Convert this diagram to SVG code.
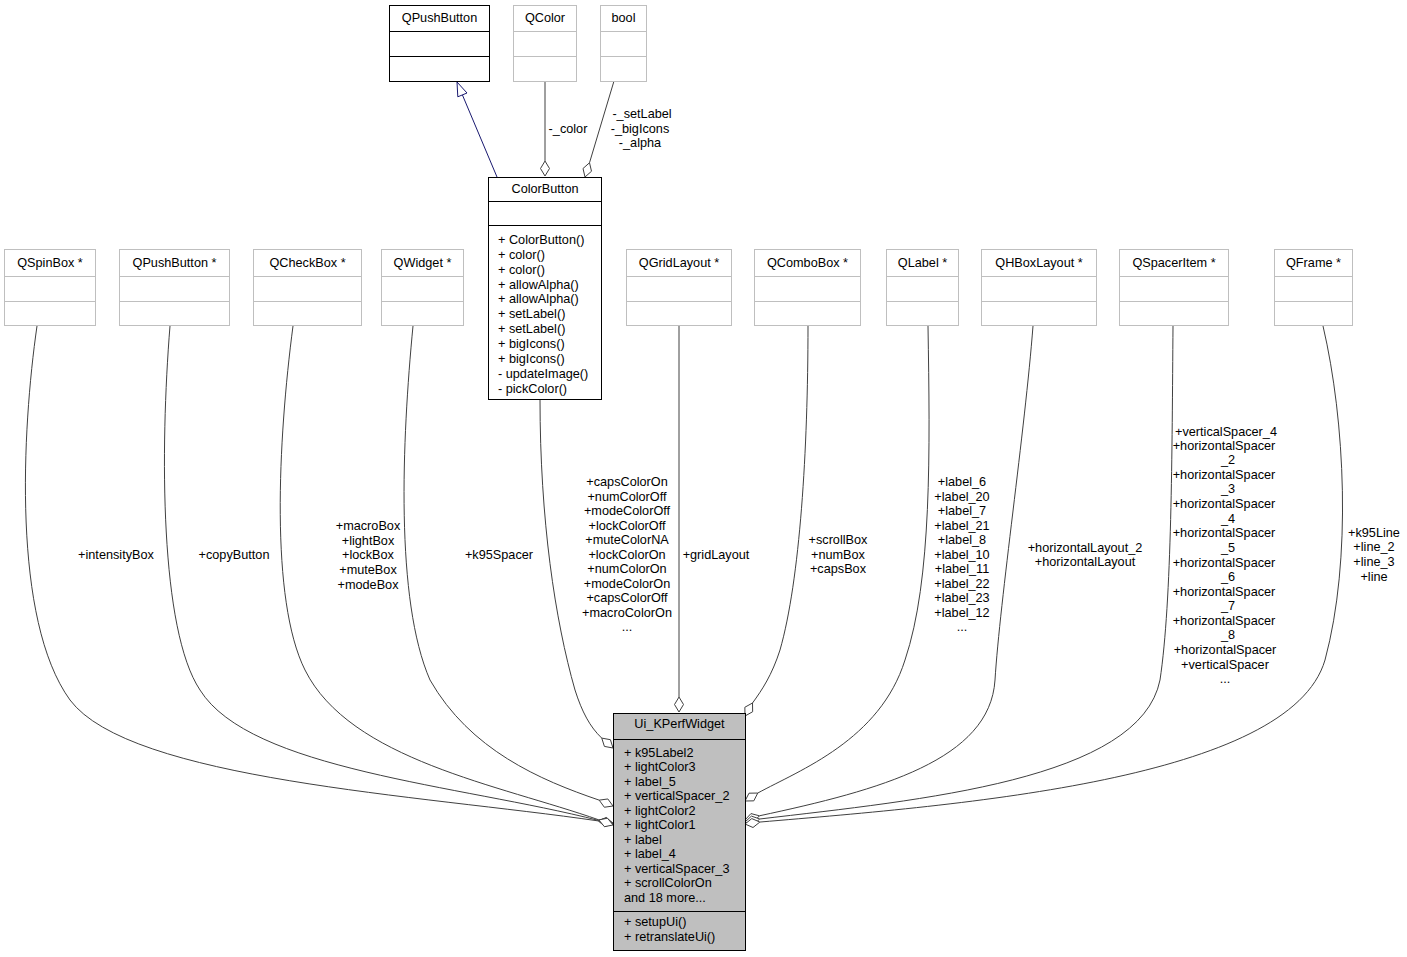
<svg xmlns="http://www.w3.org/2000/svg" width="1407" height="957" viewBox="0 0 1407 957">
<style>
text{font-family:"Liberation Sans",Arial,Helvetica,sans-serif;font-size:12.7px;fill:#000}
.c{text-anchor:middle}
.g{fill:#fff;stroke:#bfbfbf;stroke-width:1}
.k{fill:#fff;stroke:#000;stroke-width:1}
.u{fill:#bfbfbf;stroke:#000;stroke-width:1}
.e{fill:none;stroke:#404040;stroke-width:1}
.d{fill:#fff;stroke:#404040;stroke-width:1}
.inh{fill:none;stroke:#191970;stroke-width:1}
.tri{fill:#fff;stroke:#191970;stroke-width:1}
</style>
<rect width="1407" height="957" fill="#fff"/>
<g id="connectors">
<path class="inh" d="M497,177 L462.4,94.9"/>
<polygon class="tri" points="457,82 467,93 457.8,96.8"/>
<path class="e" d="M545,81 L545,161"/>
<polygon class="d" points="545,176 549.5,168.5 545,161 540.5,168.5"/>
<path class="e" d="M614,81 L589.5,162.75"/>
<polygon class="d" points="585,177 591.5,171.25 589.5,162.75 583,168.5"/>
<path class="e" d="M37,326 C22,430 12,620 70,700 C130,780 420,795 598.15,820.9"/>
<polygon class="d" points="613,823 606.2,817.5 598.15,820.9 604.97,826.4"/>
<path class="e" d="M170,326 C160,450 160,630 200,690 C250,770 460,785 598.45,820.4"/>
<polygon class="d" points="613,824 606.8,817.8 598.45,820.4 604.6,826.6"/>
<path class="e" d="M293,326 C278,440 270,600 305,670 C350,760 500,785 598.9,819.9"/>
<polygon class="d" points="613,825 607.5,818.2 598.9,819.9 604.4,826.7"/>
<path class="e" d="M413,326 C402,440 395,600 430,680 C470,750 540,780 599.2,800.15"/>
<polygon class="d" points="613,806 607.85,798.96 599.2,800.15 604.35,807.24"/>
<path class="e" d="M540,399 C540,520 555,620 575,690 C582,712 590,727 601.75,738.1"/>
<polygon class="d" points="613,748 610.4,739.7 601.75,738.1 604.4,746.4"/>
<path class="e" d="M679,326 L679,697"/>
<polygon class="d" points="679,712 683.5,704.5 679,697 674.5,704.5"/>
<path class="e" d="M808,326 C808,450 800,580 780,650 C772,675 762,690 752.5,703"/>
<polygon class="d" points="745,716 752.65,711.75 752.5,703 744.85,707.25"/>
<path class="e" d="M928,326 C930,450 932,580 905,660 C880,740 800,770 757.75,793.05"/>
<polygon class="d" points="745,801 753.8,800.85 757.75,793.05 749,793.2"/>
<path class="e" d="M1033,326 C1025,430 1000,600 995,680 C990,760 880,790 759.4,815.8"/>
<polygon class="d" points="745,820 753.46,822.22 759.4,815.8 750.94,813.58"/>
<path class="e" d="M1173,326 C1172,450 1172,600 1160,680 C1140,780 920,800 759.7,819"/>
<polygon class="d" points="745,822 753.25,824.9 759.7,819 751.45,816.1"/>
<path class="e" d="M1323,326 C1345,420 1352,560 1325,660 C1290,780 960,805 759.85,822.05"/>
<polygon class="d" points="745,824 753,827.5 759.85,822.05 751.8,818.6"/>
<text class="c" x="568" y="132.5">-_color</text>
<text class="c" x="642" y="117.5">-_setLabel</text>
<text class="c" x="640" y="132.5">-_bigIcons</text>
<text class="c" x="640" y="146.5">-_alpha</text>
<text class="c" x="116" y="558.5">+intensityBox</text>
<text class="c" x="234" y="558.5">+copyButton</text>
<text class="c" x="368" y="530">+macroBox</text>
<text class="c" x="368" y="545">+lightBox</text>
<text class="c" x="368" y="559">+lockBox</text>
<text class="c" x="368" y="574">+muteBox</text>
<text class="c" x="368" y="588.5">+modeBox</text>
<text class="c" x="499" y="558.5">+k95Spacer</text>
<text class="c" x="627" y="486">+capsColorOn</text>
<text class="c" x="627" y="500.5">+numColorOff</text>
<text class="c" x="627" y="515">+modeColorOff</text>
<text class="c" x="627" y="529.5">+lockColorOff</text>
<text class="c" x="627" y="544">+muteColorNA</text>
<text class="c" x="627" y="558.5">+lockColorOn</text>
<text class="c" x="627" y="573">+numColorOn</text>
<text class="c" x="627" y="587.5">+modeColorOn</text>
<text class="c" x="627" y="602">+capsColorOff</text>
<text class="c" x="627" y="616.5">+macroColorOn</text>
<text class="c" x="627" y="631">...</text>
<text class="c" x="716" y="558.5">+gridLayout</text>
<text class="c" x="838" y="544">+scrollBox</text>
<text class="c" x="838" y="558.5">+numBox</text>
<text class="c" x="838" y="573">+capsBox</text>
<text class="c" x="962" y="486">+label_6</text>
<text class="c" x="962" y="500.5">+label_20</text>
<text class="c" x="962" y="515">+label_7</text>
<text class="c" x="962" y="529.5">+label_21</text>
<text class="c" x="962" y="544">+label_8</text>
<text class="c" x="962" y="558.5">+label_10</text>
<text class="c" x="962" y="573">+label_11</text>
<text class="c" x="962" y="587.5">+label_22</text>
<text class="c" x="962" y="602">+label_23</text>
<text class="c" x="962" y="616.5">+label_12</text>
<text class="c" x="962" y="631">...</text>
<text class="c" x="1085" y="551.5">+horizontalLayout_2</text>
<text class="c" x="1085" y="566">+horizontalLayout</text>
<text class="c" x="1226" y="435.5">+verticalSpacer_4</text>
<text class="c" x="1224" y="450">+horizontalSpacer</text>
<text class="c" x="1228" y="464">_2</text>
<text class="c" x="1224" y="479">+horizontalSpacer</text>
<text class="c" x="1228" y="493">_3</text>
<text class="c" x="1224" y="508">+horizontalSpacer</text>
<text class="c" x="1228" y="522.5">_4</text>
<text class="c" x="1224" y="537">+horizontalSpacer</text>
<text class="c" x="1228" y="551.5">_5</text>
<text class="c" x="1224" y="566.5">+horizontalSpacer</text>
<text class="c" x="1228" y="581">_6</text>
<text class="c" x="1224" y="595.5">+horizontalSpacer</text>
<text class="c" x="1228" y="610">_7</text>
<text class="c" x="1224" y="624.5">+horizontalSpacer</text>
<text class="c" x="1228" y="639">_8</text>
<text class="c" x="1225" y="654">+horizontalSpacer</text>
<text class="c" x="1225" y="668.5">+verticalSpacer</text>
<text class="c" x="1225" y="683">...</text>
<text class="c" x="1374" y="536.5">+k95Line</text>
<text class="c" x="1374" y="551">+line_2</text>
<text class="c" x="1374" y="566">+line_3</text>
<text class="c" x="1374" y="580.5">+line</text>
</g>
<g id="QPushButton">
<rect class="k" x="389.5" y="5.5" width="100" height="76"/>
<path class="k" d="M389.5,31.5 H489.5 M389.5,56.5 H489.5"/>
<text class="c" x="439.5" y="21.5">QPushButton</text>
</g>
<g id="QColor">
<rect class="g" x="513.5" y="5.5" width="63" height="76"/>
<path class="g" d="M513.5,31.5 H576.5 M513.5,56.5 H576.5"/>
<text class="c" x="545" y="21.5">QColor</text>
</g>
<g id="bool">
<rect class="g" x="600.5" y="5.5" width="46" height="76"/>
<path class="g" d="M600.5,31.5 H646.5 M600.5,56.5 H646.5"/>
<text class="c" x="623.5" y="21.5">bool</text>
</g>
<g id="ColorButton">
<rect class="k" x="488.5" y="177.5" width="113" height="222"/>
<path class="k" d="M488.5,201.5 H601.5 M488.5,225.5 H601.5"/>
<text class="c" x="545" y="192.5">ColorButton</text>
<text x="498" y="243.8">+ ColorButton()</text>
<text x="498" y="258.7">+ color()</text>
<text x="498" y="273.6">+ color()</text>
<text x="498" y="288.5">+ allowAlpha()</text>
<text x="498" y="303.4">+ allowAlpha()</text>
<text x="498" y="318.3">+ setLabel()</text>
<text x="498" y="333.2">+ setLabel()</text>
<text x="498" y="348.1">+ bigIcons()</text>
<text x="498" y="363">+ bigIcons()</text>
<text x="498" y="377.9">- updateImage()</text>
<text x="498" y="392.8">- pickColor()</text>
</g>
<g id="QSpinBox">
<rect class="g" x="4.5" y="249.5" width="91" height="76"/>
<path class="g" d="M4.5,276.5 H95.5 M4.5,301.5 H95.5"/>
<text class="c" x="50" y="266.5">QSpinBox *</text>
</g>
<g id="QPushButtonPtr">
<rect class="g" x="119.5" y="249.5" width="110" height="76"/>
<path class="g" d="M119.5,276.5 H229.5 M119.5,301.5 H229.5"/>
<text class="c" x="174.5" y="266.5">QPushButton *</text>
</g>
<g id="QCheckBox">
<rect class="g" x="253.5" y="249.5" width="108" height="76"/>
<path class="g" d="M253.5,276.5 H361.5 M253.5,301.5 H361.5"/>
<text class="c" x="307.5" y="266.5">QCheckBox *</text>
</g>
<g id="QWidget">
<rect class="g" x="381.5" y="249.5" width="82" height="76"/>
<path class="g" d="M381.5,276.5 H463.5 M381.5,301.5 H463.5"/>
<text class="c" x="422.5" y="266.5">QWidget *</text>
</g>
<g id="QGridLayout">
<rect class="g" x="626.5" y="249.5" width="105" height="76"/>
<path class="g" d="M626.5,276.5 H731.5 M626.5,301.5 H731.5"/>
<text class="c" x="679" y="266.5">QGridLayout *</text>
</g>
<g id="QComboBox">
<rect class="g" x="754.5" y="249.5" width="106" height="76"/>
<path class="g" d="M754.5,276.5 H860.5 M754.5,301.5 H860.5"/>
<text class="c" x="807.5" y="266.5">QComboBox *</text>
</g>
<g id="QLabel">
<rect class="g" x="886.5" y="249.5" width="72" height="76"/>
<path class="g" d="M886.5,276.5 H958.5 M886.5,301.5 H958.5"/>
<text class="c" x="922.5" y="266.5">QLabel *</text>
</g>
<g id="QHBoxLayout">
<rect class="g" x="981.5" y="249.5" width="115" height="76"/>
<path class="g" d="M981.5,276.5 H1096.5 M981.5,301.5 H1096.5"/>
<text class="c" x="1039" y="266.5">QHBoxLayout *</text>
</g>
<g id="QSpacerItem">
<rect class="g" x="1119.5" y="249.5" width="109" height="76"/>
<path class="g" d="M1119.5,276.5 H1228.5 M1119.5,301.5 H1228.5"/>
<text class="c" x="1174" y="266.5">QSpacerItem *</text>
</g>
<g id="QFrame">
<rect class="g" x="1274.5" y="249.5" width="78" height="76"/>
<path class="g" d="M1274.5,276.5 H1352.5 M1274.5,301.5 H1352.5"/>
<text class="c" x="1313.5" y="266.5">QFrame *</text>
</g>
<g id="Ui_KPerfWidget">
<rect class="u" x="613.5" y="713.5" width="132" height="237"/>
<path class="u" d="M613.5,739.5 H745.5 M613.5,911.5 H745.5"/>
<text class="c" x="679.5" y="727.5">Ui_KPerfWidget</text>
<text x="624" y="756.5">+ k95Label2</text>
<text x="624" y="771">+ lightColor3</text>
<text x="624" y="785.5">+ label_5</text>
<text x="624" y="800">+ verticalSpacer_2</text>
<text x="624" y="814.5">+ lightColor2</text>
<text x="624" y="829">+ lightColor1</text>
<text x="624" y="843.5">+ label</text>
<text x="624" y="858">+ label_4</text>
<text x="624" y="872.5">+ verticalSpacer_3</text>
<text x="624" y="887">+ scrollColorOn</text>
<text x="624" y="901.5">and 18 more...</text>
<text x="624" y="926">+ setupUi()</text>
<text x="624" y="940.5">+ retranslateUi()</text>
</g>
</svg>
